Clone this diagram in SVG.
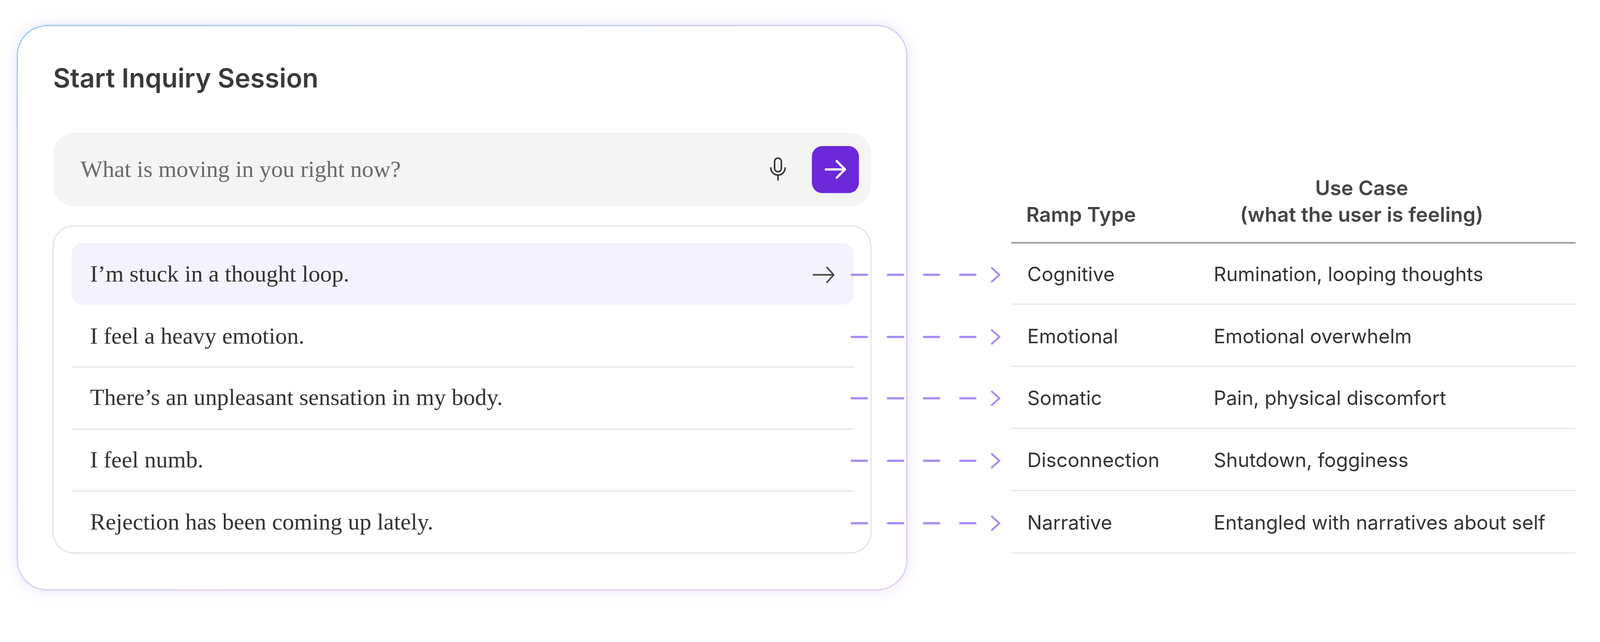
<svg xmlns="http://www.w3.org/2000/svg" width="4257" height="1644" viewBox="0 0 4257 1644">
<defs>
<linearGradient id="bord" x1="0" y1="0" x2="1" y2="1">
<stop offset="0" stop-color="#8ec9f5"/><stop offset="0.5" stop-color="#d9c8f2"/><stop offset="1" stop-color="#e2c6f4"/>
</linearGradient>
<filter id="sh" x="-5%" y="-5%" width="110%" height="110%"><feDropShadow dx="0" dy="0" stdDeviation="18" flood-color="#b9a6ee" flood-opacity="0.35"/></filter>
<style>
.ser{font-family:"Liberation Serif","DejaVu Serif",serif;font-size:62px;fill:#333}
.san{font-family:"Inter","Liberation Sans",sans-serif;font-size:52px;fill:#333}
.hd{font-family:"Inter","Liberation Sans",sans-serif;font-size:54px;font-weight:600;fill:#444}
.dash{stroke:#a98cf5;stroke-width:6;stroke-dasharray:40 56;stroke-linecap:round;fill:none}
.div{stroke:#e4e4e4;stroke-width:3}
</style>
</defs>
<g transform="scale(0.964)">
<g id="card">
<rect x="46" y="68" width="2362" height="1499" rx="80" fill="#fff" stroke="url(#bord)" stroke-width="3" filter="url(#sh)"/>
<text x="141" y="232" style="font-family:Inter,'Liberation Sans',sans-serif;font-size:70px;font-weight:600;fill:#3a3a3a">Start Inquiry Session</text>
</g>
<g id="input">
<rect x="141" y="353" width="2172" height="195" rx="55" fill="#f4f4f4"/>
<text x="214" y="470" class="ser" style="fill:#6a6a6a">What is moving in you right now?</text>
<g fill="none" stroke="#333" stroke-width="4" stroke-linecap="round">
<rect x="2057" y="420" width="18" height="36" rx="9"/>
<path d="M2047 446 a19 19 0 0 0 38 0 M2066 465 V478"/>
</g>
<rect x="2156" y="388" width="125" height="125" rx="28" fill="#6d28d9"/>
<path d="M2193 450 H2244 M2222 428 L2244 450 L2222 472" fill="none" stroke="#fff" stroke-width="6" stroke-linecap="round" stroke-linejoin="round"/>
</g>
<g id="list">
<rect x="141" y="600" width="2172" height="869" rx="55" fill="#fff" stroke="#e2e2e2" stroke-width="3"/>
<rect x="190" y="646" width="2077" height="163" rx="28" fill="#f3f2fd"/>
<line class="div" x1="190" y1="975" x2="2267" y2="975"/>
<line class="div" x1="190" y1="1140" x2="2267" y2="1140"/>
<line class="div" x1="190" y1="1304" x2="2267" y2="1304"/>
<text x="239" y="748" class="ser">I’m stuck in a thought loop.</text>
<text x="239" y="913" class="ser">I feel a heavy emotion.</text>
<text x="239" y="1076" class="ser">There’s an unpleasant sensation in my body.</text>
<text x="239" y="1242" class="ser">I feel numb.</text>
<text x="239" y="1407" class="ser">Rejection has been coming up lately.</text>
<path d="M2160 730 H2214 M2196 710 L2214 730 L2196 750" fill="none" stroke="#444" stroke-width="4" stroke-linecap="round" stroke-linejoin="round"/>
</g>
<g id="connectors">
<path class="dash" d="M2262 730 H2610"/>
<path class="dash" d="M2262 895 H2610"/>
<path class="dash" d="M2262 1058 H2610"/>
<path class="dash" d="M2262 1224 H2610"/>
<path class="dash" d="M2262 1390 H2610"/>
<path d="M2634 712 L2654 730 L2634 748 M2634 877 L2654 895 L2634 913 M2634 1040 L2654 1058 L2634 1076 M2634 1206 L2654 1224 L2634 1242 M2634 1372 L2654 1390 L2634 1408" fill="none" stroke="#a98cf5" stroke-width="5" stroke-linecap="round" stroke-linejoin="round"/>
</g>
<g id="table">
<text x="2725" y="589" class="hd">Ramp Type</text>
<text x="3616" y="519" class="hd" text-anchor="middle">Use Case</text>
<text x="3616" y="589" class="hd" text-anchor="middle">(what the user is feeling)</text>
<line x1="2685" y1="645" x2="4184" y2="645" stroke="#999" stroke-width="4"/>
<line class="div" x1="2685" y1="808" x2="4184" y2="808"/>
<line class="div" x1="2685" y1="973" x2="4184" y2="973"/>
<line class="div" x1="2685" y1="1138" x2="4184" y2="1138"/>
<line class="div" x1="2685" y1="1303" x2="4184" y2="1303"/>
<line class="div" x1="2685" y1="1469" x2="4184" y2="1469"/>
<text x="2728" y="747" class="san">Cognitive</text><text x="3223" y="747" class="san">Rumination, looping thoughts</text>
<text x="2728" y="912" class="san">Emotional</text><text x="3223" y="912" class="san">Emotional overwhelm</text>
<text x="2728" y="1076" class="san">Somatic</text><text x="3223" y="1076" class="san">Pain, physical discomfort</text>
<text x="2728" y="1241" class="san">Disconnection</text><text x="3223" y="1241" class="san">Shutdown, fogginess</text>
<text x="2728" y="1407" class="san">Narrative</text><text x="3223" y="1407" class="san">Entangled with narratives about self</text>
</g>
</g>
</svg>
